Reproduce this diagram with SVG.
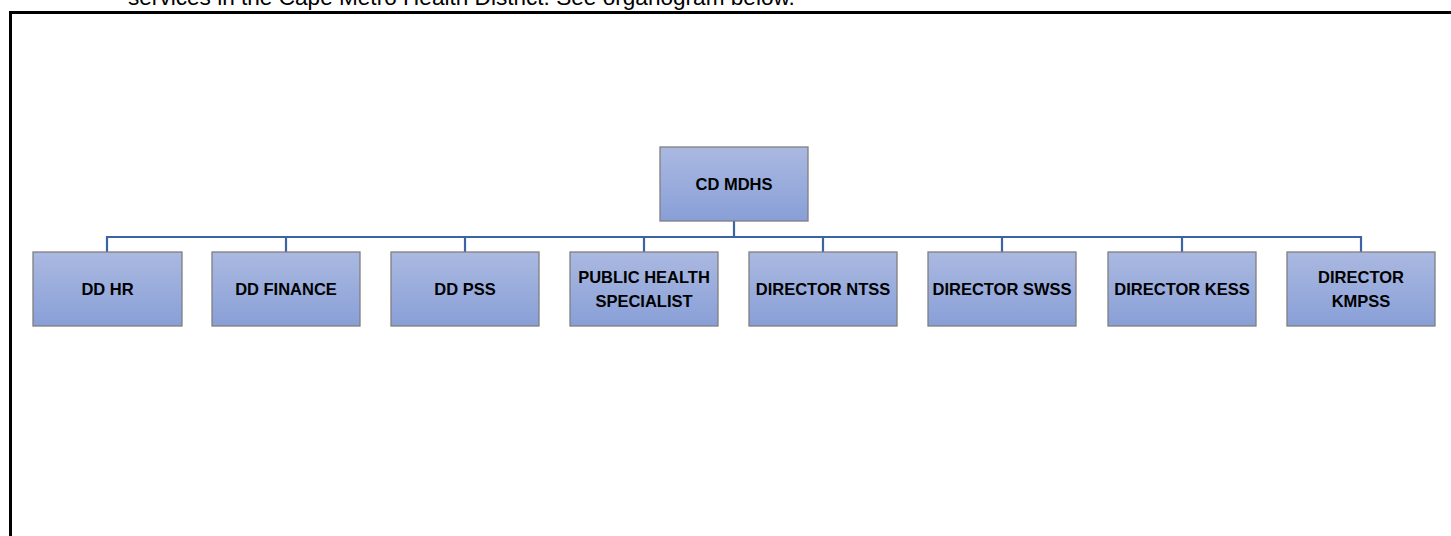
<svg xmlns="http://www.w3.org/2000/svg" width="1451" height="536" viewBox="0 0 1451 536">
<defs>
<linearGradient id="g" x1="0" y1="0" x2="0" y2="1">
<stop offset="0" stop-color="#abb9e1"/>
<stop offset="1" stop-color="#889fd7"/>
</linearGradient>
</defs>
<style>
.box{fill:url(#g);stroke:#7f7f80;stroke-width:1.3}
.lbl{font-family:"Liberation Sans",Arial,sans-serif;font-weight:bold;font-size:16.5px;fill:#000;text-anchor:middle}
.conn{fill:none;stroke:#3b63a6;stroke-width:2.2}
.frame{fill:none;stroke:#000;stroke-width:3}
.top{font-family:"Liberation Sans",Arial,sans-serif;font-size:22.6px;fill:#000}
</style>
<rect width="1451" height="536" fill="#fff"/>
<text class="top" x="128" y="5">services in the Cape Metro Health District. See organogram below.</text>
<path class="frame" d="M10.5,536 V12.5 H1451"/>
<g id="connectors">
<path class="conn" d="M734,221 V237 M107,252 V237 H1361 V252 M286,237 V252 M465,237 V252 M644,237 V252 M823,237 V252 M1002,237 V252 M1182,237 V252"/>
</g>
<g id="cd-mdhs"><rect class="box" x="660" y="147" width="148" height="74"/><text class="lbl" x="734" y="190">CD MDHS</text></g>
<g id="dd-hr"><rect class="box" x="33" y="252" width="149" height="74"/><text class="lbl" x="107.5" y="294.5">DD HR</text></g>
<g id="dd-finance"><rect class="box" x="212" y="252" width="148" height="74"/><text class="lbl" x="286" y="294.5">DD FINANCE</text></g>
<g id="dd-pss"><rect class="box" x="391" y="252" width="148" height="74"/><text class="lbl" x="465" y="294.5">DD PSS</text></g>
<g id="public-health"><rect class="box" x="570" y="252" width="148" height="74"/><text class="lbl" x="644" y="283">PUBLIC HEALTH</text><text class="lbl" x="644" y="307">SPECIALIST</text></g>
<g id="director-ntss"><rect class="box" x="749" y="252" width="148" height="74"/><text class="lbl" x="823" y="294.5">DIRECTOR NTSS</text></g>
<g id="director-swss"><rect class="box" x="928" y="252" width="148" height="74"/><text class="lbl" x="1002" y="294.5">DIRECTOR SWSS</text></g>
<g id="director-kess"><rect class="box" x="1108" y="252" width="148" height="74"/><text class="lbl" x="1182" y="294.5">DIRECTOR KESS</text></g>
<g id="director-kmpss"><rect class="box" x="1287" y="252" width="148" height="74"/><text class="lbl" x="1361" y="283">DIRECTOR</text><text class="lbl" x="1361" y="307">KMPSS</text></g>
</svg>
